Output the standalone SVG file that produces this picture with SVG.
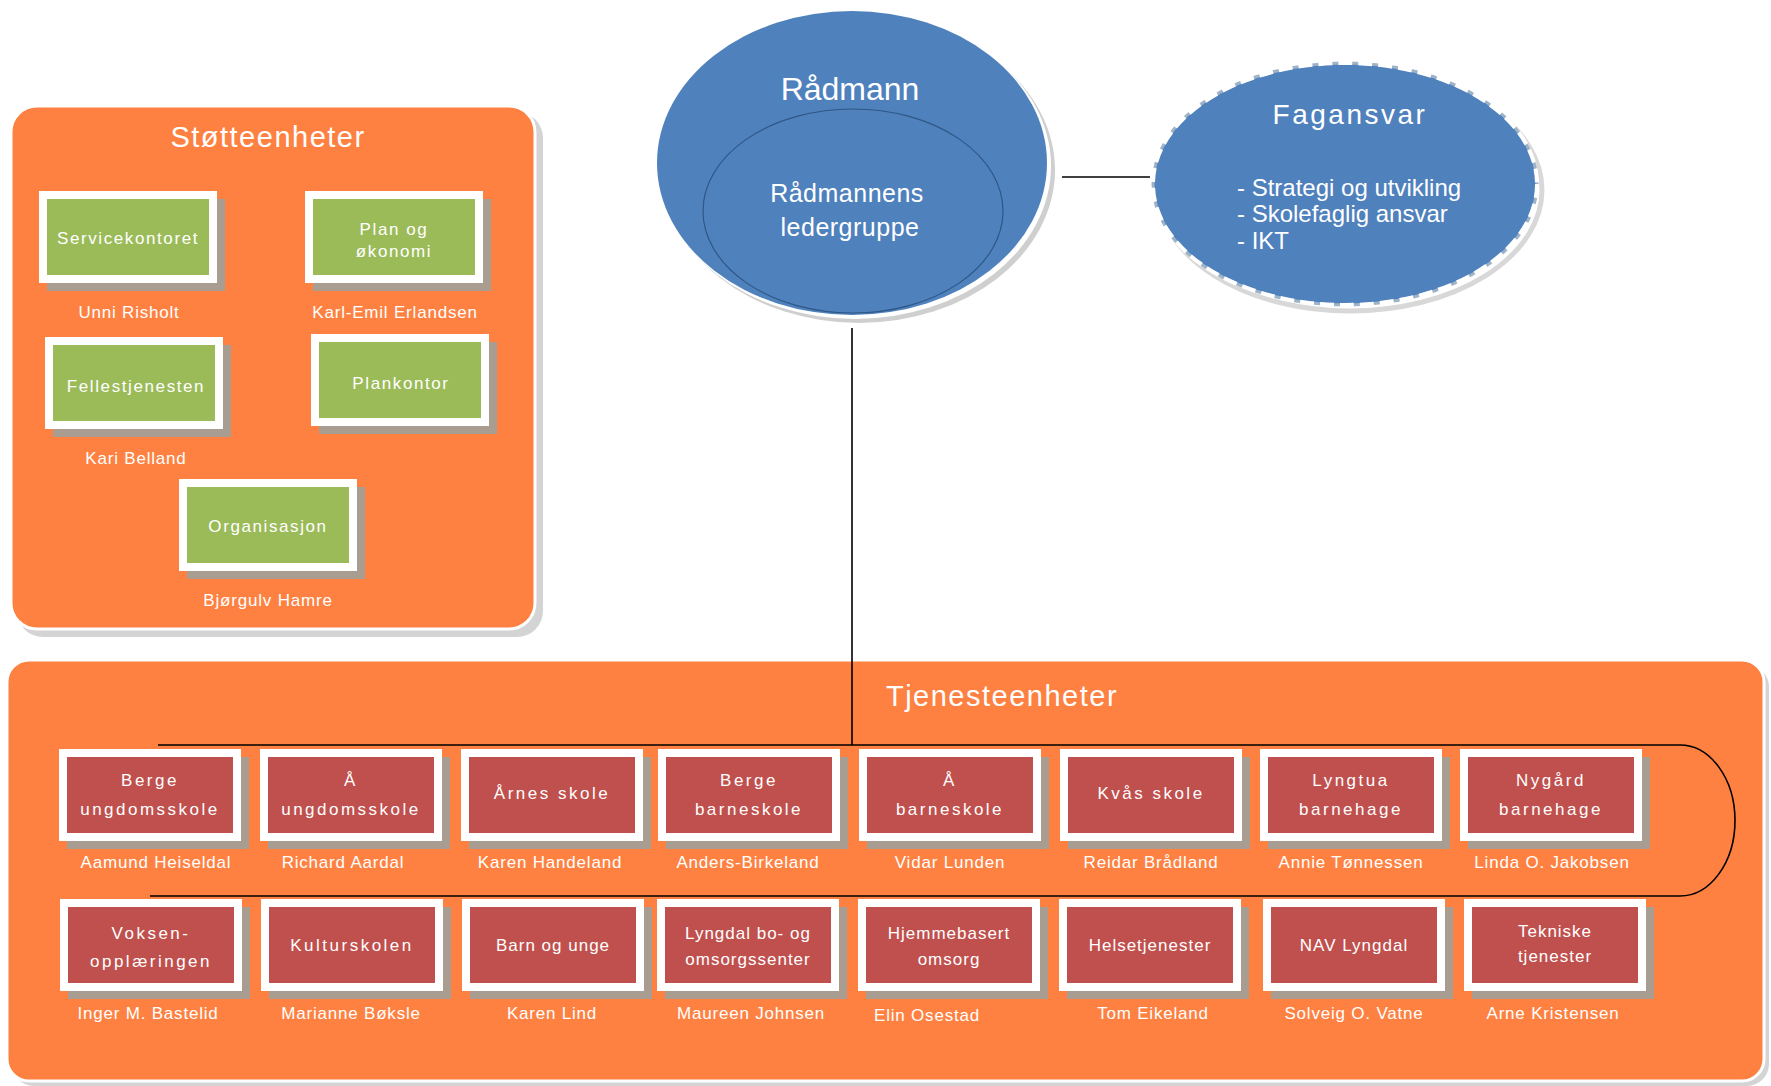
<svg xmlns="http://www.w3.org/2000/svg" width="1771" height="1086" viewBox="0 0 1771 1086">
<style>
text{font-family:"Liberation Sans",Arial,sans-serif;fill:#fff;text-anchor:middle}
.panel{fill:#FE8142;stroke:#fff;stroke-width:3}
.pshadow{fill:#d4d4d4}
.frame{fill:#fff}
.bshadow{fill:#a99d92}
.green{fill:#9BBB59}
.red{fill:#C0504D}
.bt{font-size:17px;letter-spacing:1.6px}
.sp{font-size:17px;letter-spacing:2.5px}
.tt{font-size:17px;letter-spacing:1px}
.nm{font-size:17px;letter-spacing:0.8px}
.title{font-size:29px;letter-spacing:1.5px}
.conn{stroke:#000;stroke-width:1.6;fill:none}
</style>
<rect width="1771" height="1086" fill="#fff"/>

<!-- Støtteenheter panel -->
<g id="stotteenheter">
<rect class="pshadow" x="17" y="112" width="526" height="525" rx="26"/>
<rect class="panel" x="11" y="106" width="524" height="523" rx="26"/>
<text class="title" x="268" y="147">Støtteenheter</text>
</g>

<g id="servicekontoret">
<rect class="bshadow" x="47" y="199" width="178" height="92"/>
<rect class="frame" x="39" y="191" width="178" height="92"/>
<rect class="green" x="47" y="199" width="162" height="76"/>
<text class="bt" x="128" y="244">Servicekontoret</text>
<text class="nm" x="129" y="318">Unni Risholt</text>
</g>
<g id="plan-okonomi">
<rect class="bshadow" x="313" y="199" width="178" height="92"/>
<rect class="frame" x="305" y="191" width="178" height="92"/>
<rect class="green" x="313" y="199" width="162" height="76"/>
<text class="bt" x="394" y="235">Plan og</text>
<text class="bt" x="394" y="257">økonomi</text>
<text class="nm" x="395" y="318">Karl-Emil Erlandsen</text>
</g>
<g id="fellestjenesten">
<rect class="bshadow" x="53" y="345" width="178" height="92"/>
<rect class="frame" x="45" y="337" width="178" height="92"/>
<rect class="green" x="53" y="345" width="162" height="76"/>
<text class="bt" x="136" y="392">Fellestjenesten</text>
<text class="nm" x="136" y="464">Kari Belland</text>
</g>
<g id="plankontor">
<rect class="bshadow" x="319" y="342" width="178" height="92"/>
<rect class="frame" x="311" y="334" width="178" height="92"/>
<rect class="green" x="319" y="342" width="162" height="76"/>
<text class="bt" x="401" y="389">Plankontor</text>
</g>
<g id="organisasjon">
<rect class="bshadow" x="187" y="487" width="178" height="92"/>
<rect class="frame" x="179" y="479" width="178" height="92"/>
<rect class="green" x="187" y="487" width="162" height="76"/>
<text class="bt" x="268" y="532">Organisasjon</text>
<text class="nm" x="268" y="606">Bjørgulv Hamre</text>
</g>

<!-- Tjenesteenheter panel -->
<g id="tjenesteenheter">
<rect class="pshadow" x="12" y="665" width="1757" height="421" rx="22"/>
<rect class="panel" x="7" y="660" width="1757" height="421" rx="22"/>
<text class="title" x="1002" y="706">Tjenesteenheter</text>
</g>

<!-- Connectors -->
<g id="connectors">
<line class="conn" x1="1062" y1="177" x2="1150" y2="177"/>
<line class="conn" x1="852" y1="328" x2="852" y2="745"/>
<path class="conn" d="M158 745 H1680 A55 75.5 0 0 1 1680 896 H150"/>
</g>

<!-- Rådmann -->
<g id="radmann">
<ellipse cx="859" cy="170" rx="196" ry="153" fill="#cfcfcf"/>
<ellipse cx="855" cy="166" rx="196" ry="153" fill="#fff"/>
<ellipse cx="852" cy="163" rx="195" ry="152" fill="#4F81BD"/>
<ellipse cx="853" cy="211" rx="150" ry="102" fill="#4F81BD" stroke="#2f5685" stroke-width="1.2"/>
<text x="850" y="100" style="font-size:32px">Rådmann</text>
<text x="847" y="202" style="font-size:25px;letter-spacing:0.5px">Rådmannens</text>
<text x="850" y="236" style="font-size:25px;letter-spacing:0.5px">ledergruppe</text>
</g>

<!-- Fagansvar -->
<g id="fagansvar">
<ellipse cx="1350" cy="190" rx="192" ry="121" fill="none" stroke="#d8d8d8" stroke-width="5"/>
<ellipse cx="1345" cy="184" rx="192" ry="121" fill="#4F81BD" stroke="#9fb3c8" stroke-width="3"/>
<ellipse cx="1345" cy="184" rx="192" ry="121" fill="none" stroke="#fff" stroke-width="4" stroke-dasharray="14 6"/>
<text x="1350" y="124" style="font-size:28px;letter-spacing:2.5px">Fagansvar</text>
<text x="1237" y="196" style="font-size:24px;text-anchor:start">- Strategi og utvikling</text>
<text x="1237" y="222" style="font-size:24px;text-anchor:start">- Skolefaglig ansvar</text>
<text x="1237" y="249" style="font-size:24px;text-anchor:start">- IKT</text>
</g>

<!-- Row 1 -->
<g id="berge-ungdomsskole">
<rect class="bshadow" x="67" y="757" width="182" height="92"/><rect class="frame" x="59" y="749" width="182" height="92"/><rect class="red" x="67" y="757" width="166" height="76"/>
<text class="sp" x="150" y="786">Berge</text><text class="sp" x="150" y="815">ungdomsskole</text>
<text class="nm" x="156" y="868">Aamund Heiseldal</text>
</g>
<g id="a-ungdomsskole">
<rect class="bshadow" x="268" y="757" width="182" height="92"/><rect class="frame" x="260" y="749" width="182" height="92"/><rect class="red" x="268" y="757" width="166" height="76"/>
<text class="sp" x="351" y="786">Å</text><text class="sp" x="351" y="815">ungdomsskole</text>
<text class="nm" x="343" y="868">Richard Aardal</text>
</g>
<g id="arnes-skole">
<rect class="bshadow" x="469" y="757" width="182" height="92"/><rect class="frame" x="461" y="749" width="182" height="92"/><rect class="red" x="469" y="757" width="166" height="76"/>
<text class="sp" x="552" y="799">Årnes skole</text>
<text class="nm" x="550" y="868">Karen Handeland</text>
</g>
<g id="berge-barneskole">
<rect class="bshadow" x="666" y="757" width="182" height="92"/><rect class="frame" x="658" y="749" width="182" height="92"/><rect class="red" x="666" y="757" width="166" height="76"/>
<text class="sp" x="749" y="786">Berge</text><text class="sp" x="749" y="815">barneskole</text>
<text class="nm" x="748" y="868">Anders-Birkeland</text>
</g>
<g id="a-barneskole">
<rect class="bshadow" x="867" y="757" width="182" height="92"/><rect class="frame" x="859" y="749" width="182" height="92"/><rect class="red" x="867" y="757" width="166" height="76"/>
<text class="sp" x="950" y="786">Å</text><text class="sp" x="950" y="815">barneskole</text>
<text class="nm" x="950" y="868">Vidar Lunden</text>
</g>
<g id="kvas-skole">
<rect class="bshadow" x="1068" y="757" width="182" height="92"/><rect class="frame" x="1060" y="749" width="182" height="92"/><rect class="red" x="1068" y="757" width="166" height="76"/>
<text class="sp" x="1151" y="799">Kvås skole</text>
<text class="nm" x="1151" y="868">Reidar Brådland</text>
</g>
<g id="lyngtua-barnehage">
<rect class="bshadow" x="1268" y="757" width="182" height="92"/><rect class="frame" x="1260" y="749" width="182" height="92"/><rect class="red" x="1268" y="757" width="166" height="76"/>
<text class="sp" x="1351" y="786">Lyngtua</text><text class="sp" x="1351" y="815">barnehage</text>
<text class="nm" x="1351" y="868">Annie Tønnessen</text>
</g>
<g id="nygard-barnehage">
<rect class="bshadow" x="1468" y="757" width="182" height="92"/><rect class="frame" x="1460" y="749" width="182" height="92"/><rect class="red" x="1468" y="757" width="166" height="76"/>
<text class="sp" x="1551" y="786">Nygård</text><text class="sp" x="1551" y="815">barnehage</text>
<text class="nm" x="1552" y="868">Linda O. Jakobsen</text>
</g>

<!-- Row 2 -->
<g id="voksenopplaeringen">
<rect class="bshadow" x="68" y="907" width="182" height="92"/><rect class="frame" x="60" y="899" width="182" height="92"/><rect class="red" x="68" y="907" width="166" height="76"/>
<text class="sp" x="151" y="939">Voksen-</text><text class="sp" x="151" y="967">opplæringen</text>
<text class="nm" x="148" y="1019">Inger M. Bastelid</text>
</g>
<g id="kulturskolen">
<rect class="bshadow" x="269" y="907" width="182" height="92"/><rect class="frame" x="261" y="899" width="182" height="92"/><rect class="red" x="269" y="907" width="166" height="76"/>
<text class="sp" x="352" y="951">Kulturskolen</text>
<text class="nm" x="351" y="1019">Marianne Bøksle</text>
</g>
<g id="barn-og-unge">
<rect class="bshadow" x="470" y="907" width="182" height="92"/><rect class="frame" x="462" y="899" width="182" height="92"/><rect class="red" x="470" y="907" width="166" height="76"/>
<text class="tt" x="553" y="951">Barn og unge</text>
<text class="nm" x="552" y="1019">Karen Lind</text>
</g>
<g id="lyngdal-bo-og-omsorgssenter">
<rect class="bshadow" x="665" y="907" width="182" height="92"/><rect class="frame" x="657" y="899" width="182" height="92"/><rect class="red" x="665" y="907" width="166" height="76"/>
<text class="tt" x="748" y="939">Lyngdal bo- og</text><text class="tt" x="748" y="965">omsorgssenter</text>
<text class="nm" x="751" y="1019">Maureen Johnsen</text>
</g>
<g id="hjemmebasert-omsorg">
<rect class="bshadow" x="866" y="907" width="182" height="92"/><rect class="frame" x="858" y="899" width="182" height="92"/><rect class="red" x="866" y="907" width="166" height="76"/>
<text class="tt" x="949" y="939">Hjemmebasert</text><text class="tt" x="949" y="965">omsorg</text>
<text class="nm" x="927" y="1021">Elin Osestad</text>
</g>
<g id="helsetjenester">
<rect class="bshadow" x="1067" y="907" width="182" height="92"/><rect class="frame" x="1059" y="899" width="182" height="92"/><rect class="red" x="1067" y="907" width="166" height="76"/>
<text class="tt" x="1150" y="951">Helsetjenester</text>
<text class="nm" x="1153" y="1019">Tom Eikeland</text>
</g>
<g id="nav-lyngdal">
<rect class="bshadow" x="1271" y="907" width="182" height="92"/><rect class="frame" x="1263" y="899" width="182" height="92"/><rect class="red" x="1271" y="907" width="166" height="76"/>
<text class="tt" x="1354" y="951">NAV Lyngdal</text>
<text class="nm" x="1354" y="1019">Solveig O. Vatne</text>
</g>
<g id="tekniske-tjenester">
<rect class="bshadow" x="1472" y="907" width="182" height="92"/><rect class="frame" x="1464" y="899" width="182" height="92"/><rect class="red" x="1472" y="907" width="166" height="76"/>
<text class="tt" x="1555" y="937">Tekniske</text><text class="tt" x="1555" y="962">tjenester</text>
<text class="nm" x="1553" y="1019">Arne Kristensen</text>
</g>
</svg>
